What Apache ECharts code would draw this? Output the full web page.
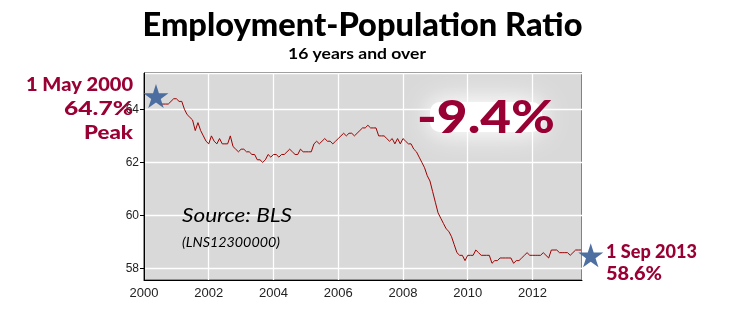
<!DOCTYPE html>
<html>
<head>
<meta charset="utf-8">
<script src="https://cdn.jsdelivr.net/npm/echarts@6/dist/echarts.min.js"></script>
<style>
html,body{margin:0;padding:0;background:#fff;}
#c{width:729px;height:313px;}
</style>
</head>
<body>
<div id="c"></div>
<script>
// ---- data (monthly, seasonally adjusted) ----
const firstYear = 2000;
const firstMonth = 7; // July 2000
const ratio2000 = [64.2,64.2,64.2,64.2,64.3,64.4];
const ratio2001 = [64.4,64.3,64.3,64.0,63.8,63.7,63.6,63.2,63.5,63.2,63.0,62.8];
const ratio2002 = [62.7,63.0,62.8,62.7,62.9,62.7,62.7,62.7,63.0,62.6,62.5,62.4];
const ratio2003 = [62.5,62.5,62.4,62.4,62.3,62.3,62.1,62.1,62.0,62.1,62.3,62.2];
const ratio2004 = [62.3,62.3,62.2,62.3,62.3,62.4,62.5,62.4,62.3,62.3,62.5,62.4];
const ratio2005 = [62.4,62.4,62.4,62.7,62.8,62.7,62.8,62.9,62.8,62.8,62.7,62.8];
const ratio2006 = [62.9,63.0,63.1,63.0,63.1,63.1,63.0,63.1,63.2,63.3,63.3,63.4];
const ratio2007 = [63.3,63.3,63.3,63.0,63.0,63.0,62.9,62.8,62.9,62.7,62.9,62.7];
const ratio2008 = [62.9,62.8,62.7,62.7,62.5,62.4,62.2,62.0,61.8,61.5,61.3,60.9];
const ratio2009 = [60.5,60.1,59.9,59.7,59.5,59.4,59.2,58.9,58.6,58.5,58.5,58.3];
const ratio2010 = [58.5,58.5,58.5,58.7,58.6,58.5,58.5,58.5,58.5,58.2,58.3,58.3];
const ratio2011 = [58.4,58.4,58.4,58.4,58.4,58.2,58.3,58.3,58.4,58.5,58.6,58.5];
const ratio2012 = [58.5,58.5,58.5,58.5,58.6,58.5,58.4,58.7,58.7,58.7,58.6,58.6];
const ratio2013 = [58.6,58.6,58.5,58.6,58.7,58.7,58.7];

const peakPoint = [2000.37, 64.5];   // 1 May 2000 marker
const lastPoint = [2013.8, 58.5];    // 1 Sep 2013 marker

const xTickYears = [2000, 2002, 2004, 2006, 2008, 2010, 2012];
const yTicks = [58, 60, 62, 64];

const titleText = 'Employment-Population Ratio';
const subtitleText = '16 years and over';
const peakLabels = ['1 May 2000', '64.7%', 'Peak'];
const lastLabels = ['1 Sep 2013', '58.6%'];
const changeText = '-9.4%';
const sourceText = 'Source: BLS';
const seriesIdText = '(LNS12300000)';

// ---- build series ----
const allValues = [].concat(ratio2000, ratio2001, ratio2002, ratio2003, ratio2004,
  ratio2005, ratio2006, ratio2007, ratio2008, ratio2009, ratio2010, ratio2011,
  ratio2012, ratio2013);
const lineData = allValues.map((v, i) => {
  const m = firstMonth - 1 + i;
  return [firstYear + m / 12, v];
});

// measure helper to fit text widths
const mctx = document.createElement('canvas').getContext('2d');
function textW(t, font) { mctx.font = font; return mctx.measureText(t).width; }
function fitText(t, font, width, x, y, align, fill, extra) {
  const s = width / textW(t, font);
  return Object.assign({
    type: 'text', x: x, y: y, scaleX: s, z: 100,
    style: { text: t, font: font, fill: fill, textAlign: align, align: align,
             textVerticalAlign: 'middle', verticalAlign: 'middle' }
  }, extra || {});
}

const heavy = '900 19px Lato';
const red = '#990033';

const starPath = 'path://M100,0 L122.45,69.1 L195.1,69.1 L136.3,111.8 L158.8,180.9 L100,138.2 L41.2,180.9 L63.7,111.8 L4.9,69.1 L77.55,69.1 Z';

const chart = echarts.init(document.getElementById('c'), null, {renderer: 'canvas'});
chart.setOption({
  animation: false,
  grid: { left: 144, right: 147, top: 73, bottom: 33, show: true,
          backgroundColor: '#d9d9d9', borderColor: '#000', borderWidth: 1 },
  xAxis: {
    type: 'value', min: 2000, max: 2013.53, interval: 2,
    axisLine: { lineStyle: { color: '#000', width: 1 } },
    axisTick: { show: false },
    splitLine: { show: true, lineStyle: { color: '#fff', width: 1.3 } },
    axisLabel: { color: '#222', fontFamily: 'Liberation Sans', fontSize: 13, margin: 7,
                 showMaxLabel: false,
                 formatter: v => (xTickYears.indexOf(v) >= 0 ? String(v) : '') }
  },
  yAxis: {
    type: 'value', min: 57.57, max: 65.37, splitNumber: 4,
    axisLine: { show: true, lineStyle: { color: '#000', width: 1 } },
    axisTick: { show: true, length: 4, lineStyle: { color: '#000' } },
    splitLine: { show: true, lineStyle: { color: '#fff', width: 1.3 } },
    axisLabel: { color: '#222', fontFamily: 'Liberation Sans', fontSize: 12, margin: 5,
                 showMinLabel: false, showMaxLabel: false,
                 formatter: v => (yTicks.indexOf(v) >= 0 ? String(v) : '') }
  },
  series: [
    { type: 'line', data: lineData, showSymbol: false, symbol: 'none',
      lineStyle: { color: '#a00000', width: 1 }, z: 3 },
    { type: 'scatter', data: [peakPoint, lastPoint], symbol: starPath,
      symbolSize: [25, 24], clip: false, z: 5,
      itemStyle: { color: '#44679c', opacity: 0.95 } }
  ],
  graphic: [
    { type: 'rect', z: 50, shape: { x: 430, y: 102, width: 112, height: 30, r: 10 },
      style: { fill: 'rgba(255,255,255,0.97)', shadowBlur: 34, shadowColor: '#fff' } },
    { type: 'rect', z: 51, shape: { x: 430, y: 102, width: 112, height: 30, r: 10 },
      style: { fill: 'rgba(255,255,255,0.6)', shadowBlur: 18, shadowColor: '#fff' } },
    fitText(titleText, '900 32px Lato', 440, 362.5, 26, 'center', '#000'),
    fitText(subtitleText, 'bold 16px Lato', 138, 357, 54, 'center', '#000'),
    fitText(peakLabels[0], heavy, 107, 133, 85, 'right', red),
    fitText(peakLabels[1], heavy, 69, 133, 109, 'right', red),
    fitText(peakLabels[2], heavy, 49, 133, 133, 'right', red),
    fitText(lastLabels[0], heavy, 91, 606, 252, 'left', red),
    fitText(lastLabels[1], heavy, 56, 606, 274, 'left', red),
    fitText(changeText, '900 46px Lato', 138, 486, 118, 'center', red, { z: 60 }),
    fitText(sourceText, 'italic 20px Lato', 110, 182, 216, 'left', '#000'),
    fitText(seriesIdText, 'italic 13px Lato', 98, 182, 243, 'left', '#000')
  ]
});
</script>
</body>
</html>
